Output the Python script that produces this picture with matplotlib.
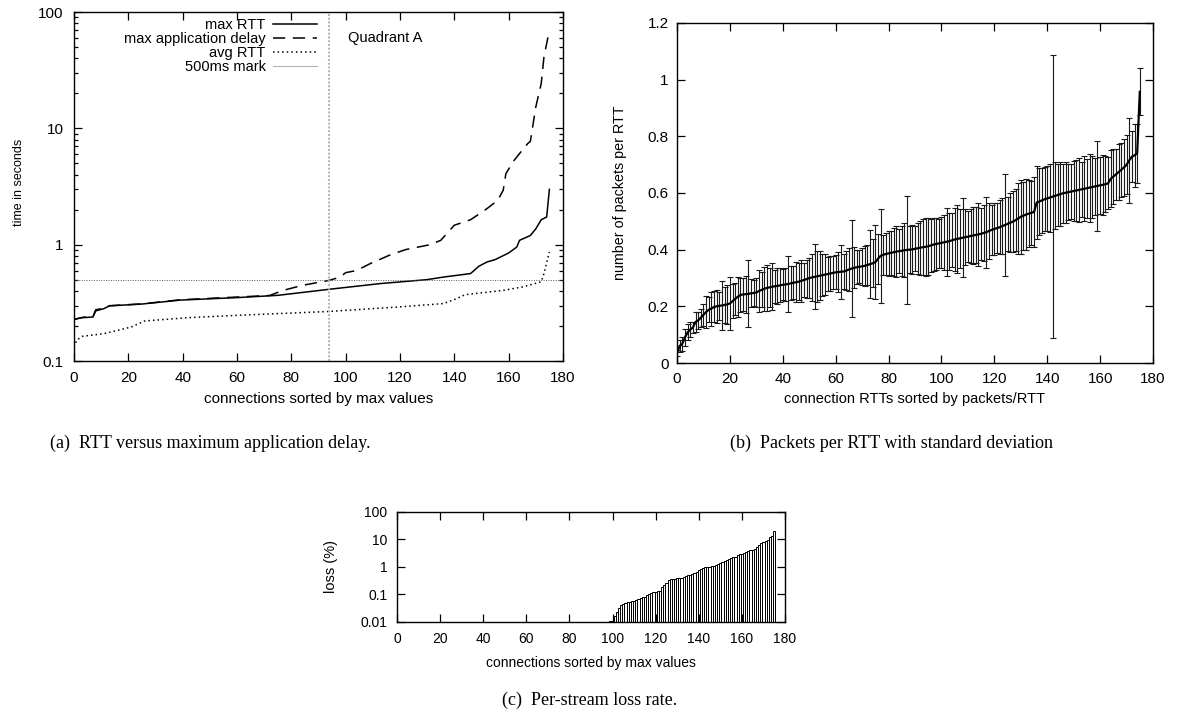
import matplotlib.pyplot as plt
import numpy as np
from matplotlib.lines import Line2D
from matplotlib.ticker import FuncFormatter, LogLocator, NullFormatter

plt.rcParams['font.family'] = ['Liberation Sans', 'DejaVu Sans']

# (a) RTT vs max application delay -- breakpoints
rtt_x = [0, 3, 7, 8, 11, 13, 25, 39, 60, 75, 94, 113, 130, 136, 146, 149, 152,
         155, 157, 160, 163, 164, 168, 170, 172, 174, 175]
rtt_y = [0.228, 0.236, 0.239, 0.270, 0.282, 0.298, 0.309, 0.334, 0.351, 0.367,
         0.414, 0.464, 0.501, 0.527, 0.565, 0.652, 0.71, 0.744, 0.784, 0.849,
         0.955, 1.09, 1.2, 1.37, 1.64, 1.73, 2.99]

delay_x = [0, 3, 7, 8, 11, 13, 25, 39, 60, 72, 77, 84, 94, 98, 100, 104, 109,
           116, 122, 131, 135, 140, 146, 152, 156, 158, 159, 162, 164, 167, 168,
           170, 172, 173, 175]
delay_y = [0.228, 0.237, 0.242, 0.276, 0.284, 0.299, 0.310, 0.336, 0.355, 0.366,
           0.405, 0.447, 0.494, 0.527, 0.575, 0.60, 0.687, 0.81, 0.907, 1.0,
           1.09, 1.47, 1.64, 2.04, 2.41, 2.94, 4.09, 5.3, 6.07, 7.39, 7.74, 15.3,
           24.3, 41.1, 69.7]

avg_x = [0, 1, 3, 11, 21, 26, 42, 60, 94, 119, 136, 140, 144, 158, 165, 172, 173, 175]
avg_y = [0.132, 0.151, 0.163, 0.172, 0.196, 0.221, 0.236, 0.247, 0.267, 0.291,
         0.312, 0.337, 0.372, 0.405, 0.433, 0.480, 0.565, 0.865]

mark_ms = 0.5
quadrant_x = 94

# (b) packets per RTT, mean and standard deviation per connection
ppr_mean = [
    0.035, 0.060, 0.068, 0.090, 0.108, 0.118, 0.125, 0.145, 0.150, 0.160,
    0.170, 0.180, 0.188, 0.192, 0.198, 0.200, 0.202, 0.203, 0.205, 0.207,
    0.210, 0.218, 0.226, 0.234, 0.240, 0.242, 0.243, 0.244, 0.246, 0.247,
    0.249, 0.254, 0.258, 0.262, 0.265, 0.267, 0.269, 0.271, 0.272, 0.274,
    0.276, 0.277, 0.279, 0.281, 0.283, 0.285, 0.287, 0.290, 0.293, 0.296,
    0.300, 0.302, 0.304, 0.306, 0.308, 0.310, 0.312, 0.314, 0.316, 0.318,
    0.320, 0.321, 0.322, 0.323, 0.326, 0.330, 0.333, 0.336, 0.338, 0.340,
    0.341, 0.343, 0.346, 0.349, 0.352, 0.356, 0.368, 0.378, 0.382, 0.385,
    0.387, 0.389, 0.391, 0.393, 0.395, 0.396, 0.398, 0.399, 0.400, 0.401,
    0.403, 0.405, 0.407, 0.409, 0.410, 0.412, 0.415, 0.418, 0.420, 0.422,
    0.424, 0.426, 0.428, 0.430, 0.433, 0.436, 0.438, 0.440, 0.442, 0.444,
    0.446, 0.448, 0.450, 0.452, 0.454, 0.456, 0.459, 0.462, 0.466, 0.470,
    0.473, 0.476, 0.479, 0.483, 0.487, 0.491, 0.495, 0.499, 0.504, 0.510,
    0.516, 0.520, 0.524, 0.527, 0.530, 0.533, 0.566, 0.570, 0.574, 0.578,
    0.581, 0.584, 0.587, 0.590, 0.593, 0.596, 0.599, 0.601, 0.603, 0.605,
    0.607, 0.609, 0.611, 0.613, 0.615, 0.617, 0.619, 0.621, 0.623, 0.625,
    0.627, 0.629, 0.631, 0.634, 0.650, 0.658, 0.666, 0.674, 0.682, 0.690,
    0.700, 0.715, 0.728, 0.733, 0.740, 0.957]
ppr_sd = [
    0.012, 0.020, 0.025, 0.030, 0.028, 0.025, 0.020, 0.035, 0.030, 0.032,
    0.040, 0.057, 0.045, 0.060, 0.055, 0.058, 0.050, 0.087, 0.065, 0.070,
    0.094, 0.060, 0.055, 0.070, 0.060, 0.058, 0.065, 0.118, 0.050, 0.045,
    0.052, 0.075, 0.062, 0.078, 0.080, 0.070, 0.083, 0.058, 0.062, 0.060,
    0.055, 0.057, 0.100, 0.060, 0.058, 0.070, 0.065, 0.075, 0.060, 0.068,
    0.070, 0.082, 0.115, 0.090, 0.086, 0.075, 0.072, 0.060, 0.062, 0.058,
    0.060, 0.070, 0.095, 0.062, 0.070, 0.075, 0.170, 0.072, 0.060, 0.058,
    0.065, 0.070, 0.072, 0.120, 0.085, 0.130, 0.088, 0.165, 0.070, 0.075,
    0.080, 0.078, 0.085, 0.090, 0.078, 0.088, 0.095, 0.190, 0.082, 0.086,
    0.080, 0.090, 0.095, 0.098, 0.102, 0.100, 0.094, 0.092, 0.090, 0.085,
    0.090, 0.098, 0.120, 0.100, 0.095, 0.112, 0.120, 0.105, 0.140, 0.098,
    0.090, 0.095, 0.100, 0.098, 0.110, 0.092, 0.100, 0.125, 0.098, 0.088,
    0.092, 0.088, 0.095, 0.100, 0.180, 0.096, 0.105, 0.108, 0.110, 0.125,
    0.130, 0.120, 0.125, 0.118, 0.112, 0.122, 0.130, 0.118, 0.115, 0.112,
    0.115, 0.120, 0.500, 0.118, 0.110, 0.112, 0.105, 0.108, 0.100, 0.098,
    0.105, 0.108, 0.112, 0.098, 0.115, 0.104, 0.120, 0.110, 0.102, 0.158,
    0.100, 0.105, 0.098, 0.092, 0.100, 0.096, 0.090, 0.098, 0.095, 0.100,
    0.105, 0.150, 0.090, 0.112, 0.105, 0.083]

# (c) loss rate in %, connections 0..98 have no measurable loss
loss_first = 99
loss_pct = [
    0.0105, 0.011, 0.016, 0.024, 0.032, 0.042, 0.046, 0.049, 0.052, 0.055,
    0.057, 0.060, 0.063, 0.068, 0.072, 0.078, 0.084, 0.095, 0.108, 0.118,
    0.122, 0.125, 0.13, 0.136, 0.18, 0.22, 0.27, 0.33, 0.36, 0.37,
    0.38, 0.39, 0.40, 0.41, 0.44, 0.48, 0.50, 0.52, 0.55, 0.59,
    0.68, 0.78, 0.88, 0.95, 0.98, 1.0, 1.03, 1.06, 1.09, 1.15,
    1.3, 1.45, 1.55, 1.7, 1.85, 2.0, 2.1, 2.25, 2.4, 2.7,
    2.9, 3.0, 3.2, 3.5, 3.7, 4.0, 4.3, 4.7, 5.2, 6.5,
    7.6, 8.0, 8.6, 9.4, 12.5, 13.5, 21.0]


def gnuplot_look(ax, size, xpad, ypad):
    ax.tick_params(which='both', direction='in', top=True, right=True,
                   width=0.9, labelsize=size)
    ax.tick_params(axis='x', pad=xpad)
    ax.tick_params(axis='y', pad=ypad)
    ax.tick_params(which='major', length=6)
    ax.tick_params(which='minor', length=3)
    for s in ax.spines.values():
        s.set_linewidth(1.0)


plain = FuncFormatter(lambda v, p: '%g' % v)

fig = plt.figure(figsize=(11.78, 7.25), dpi=100)
ax_a = fig.add_axes([0.0628, 0.502, 0.4151, 0.4814])
ax_b = fig.add_axes([0.5747, 0.4993, 0.4041, 0.469])
ax_c = fig.add_axes([0.337, 0.1421, 0.3294, 0.1517])

# ---- (a)
ax_a.plot(rtt_x, rtt_y, color='k', lw=1.1)
ax_a.plot(delay_x, delay_y, color='k', lw=1.1, ls=(0, (8, 5)))
ax_a.plot(avg_x, avg_y, color='k', lw=1.1, ls=(0, (1, 2)))
ax_a.axhline(mark_ms, color='0.35', lw=0.7, ls=(0, (1, 1.5)))
ax_a.axvline(quadrant_x, color='0.72', lw=1.5, ls=(0, (1, 0.8)))
ax_a.set_yscale('log')
ax_a.set_xlim(0, 180)
ax_a.set_ylim(0.1, 100)
ax_a.set_xticks(range(0, 181, 20))
ax_a.yaxis.set_major_formatter(plain)
ax_a.yaxis.set_minor_locator(LogLocator(base=10, subs=np.arange(2, 10)))
ax_a.yaxis.set_minor_formatter(NullFormatter())
gnuplot_look(ax_a, 11, 7, 7.5)
ax_a.set_xlabel('connections sorted by max values', fontsize=11)
ax_a.set_ylabel('time in seconds', fontsize=9)
ax_a.xaxis.set_label_coords(0.5, -0.109)
ax_a.xaxis.label.set_va('center')
ax_a.yaxis.set_label_coords(-0.113, 0.513)
ax_a.yaxis.label.set_va('center')
ax_a.text(0.56, 0.925, 'Quadrant A', transform=ax_a.transAxes, fontsize=10.5,
          va='center', ha='left')
handles = [Line2D([], [], color='k', lw=1.1),
           Line2D([], [], color='k', lw=1.1, ls=(0, (8, 5))),
           Line2D([], [], color='k', lw=1.1, ls=(0, (1, 2))),
           Line2D([], [], color='0.7', lw=0.8)]
labels = ['max RTT', 'max application delay', 'avg RTT', '500ms mark']
ax_a.legend(handles, labels, loc='upper right', bbox_to_anchor=(0.508, 1.0),
            frameon=False, markerfirst=False, fontsize=10.5, handlelength=3.0,
            handletextpad=0.5, labelspacing=0.0, borderaxespad=0.2, borderpad=0.2)

# ---- (b)
conn_b = np.arange(len(ppr_mean))
ax_b.errorbar(conn_b, ppr_mean, yerr=ppr_sd, color='k', lw=1.6,
              ecolor='0.1', elinewidth=0.8, capsize=2.2, capthick=0.8)
ax_b.set_xlim(0, 180)
ax_b.set_ylim(0, 1.2)
ax_b.set_xticks(range(0, 181, 20))
ax_b.set_yticks([0, 0.2, 0.4, 0.6, 0.8, 1.0, 1.2])
ax_b.yaxis.set_major_formatter(plain)
gnuplot_look(ax_b, 11, 6.5, 6)
ax_b.set_xlabel('connection RTTs sorted by packets/RTT', fontsize=10.5)
ax_b.set_ylabel('number of packets per RTT', fontsize=10.3)
ax_b.xaxis.set_label_coords(0.5, -0.106)
ax_b.xaxis.label.set_va('center')
ax_b.yaxis.set_label_coords(-0.12, 0.5)
ax_b.yaxis.label.set_va('center')

# ---- (c)
conn_c = np.arange(loss_first, loss_first + len(loss_pct))
ax_c.bar(conn_c, np.array(loss_pct) - 0.01, bottom=0.01, width=1.0,
         color='white', edgecolor='k', lw=0.7)
ax_c.set_yscale('log')
ax_c.set_xlim(0, 180)
ax_c.set_ylim(0.01, 100)
ax_c.set_xticks(range(0, 181, 20))
ax_c.set_yticks([0.01, 0.1, 1, 10, 100])
ax_c.yaxis.set_major_formatter(plain)
ax_c.yaxis.set_minor_locator(LogLocator(base=10, subs=np.arange(2, 10)))
ax_c.yaxis.set_minor_formatter(NullFormatter())
gnuplot_look(ax_c, 10, 7, 7)
ax_c.set_xlabel('connections sorted by max values', fontsize=10)
ax_c.set_ylabel('loss (%)', fontsize=10.5)
ax_c.xaxis.set_label_coords(0.5, -0.373)
ax_c.xaxis.label.set_va('center')
ax_c.yaxis.set_label_coords(-0.17, 0.5)
ax_c.yaxis.label.set_va('center')

# captions
cap = dict(ha='center', va='center', family=['Liberation Serif', 'DejaVu Serif'],
           fontsize=13)
fig.text(210 / 1178, 1 - 443 / 725, '(a)  RTT versus maximum application delay.', **cap)
fig.text(891 / 1178, 1 - 443 / 725, '(b)  Packets per RTT with standard deviation', **cap)
fig.text(590 / 1178, 1 - 700 / 725, '(c)  Per-stream loss rate.', **cap)

fig.savefig('out.png', dpi=100)
